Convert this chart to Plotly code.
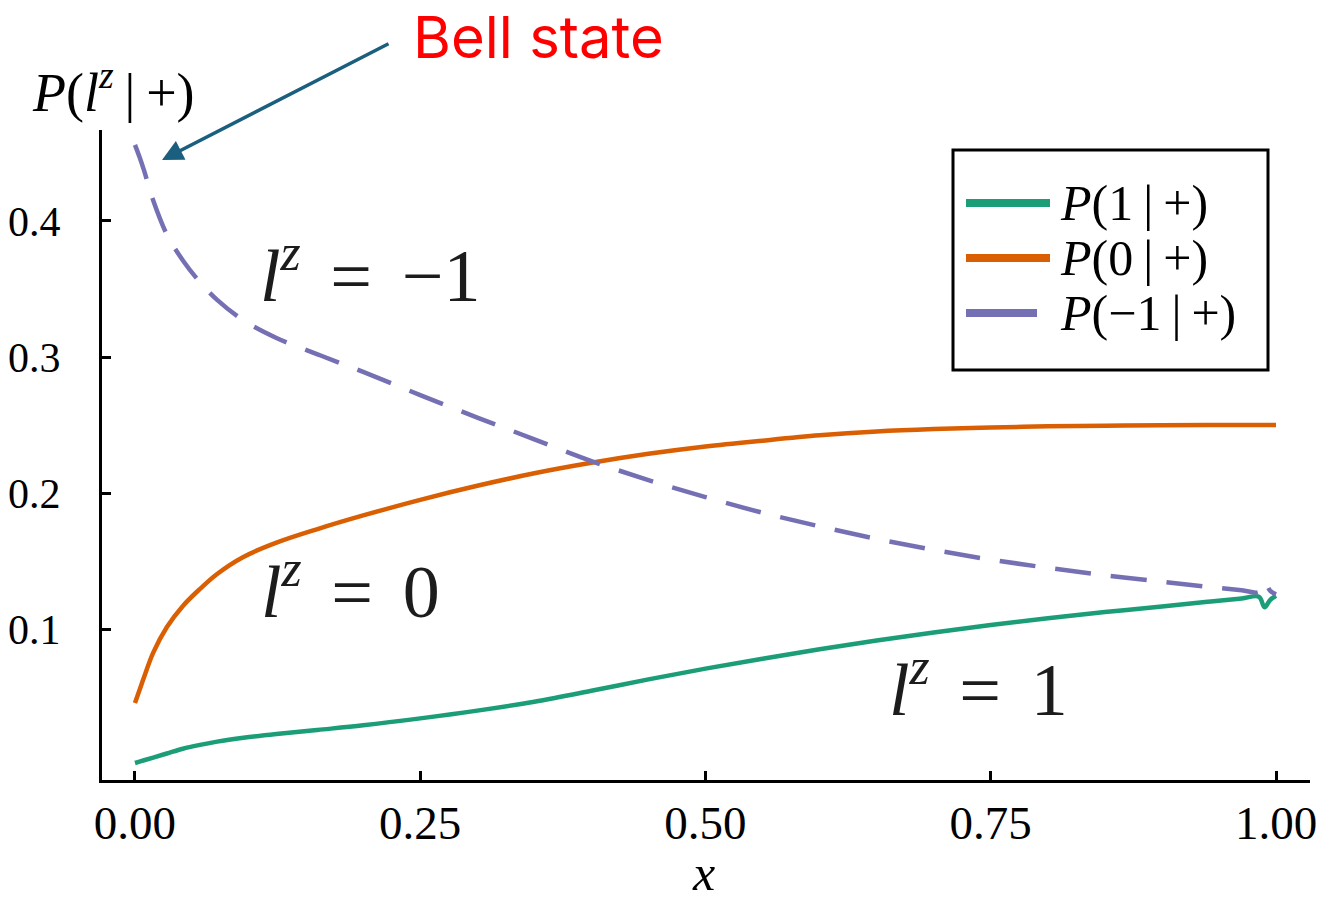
import plotly.graph_objects as go

# Sampled curves P(l^z | +) versus x
x_vals = [0.0, 0.004, 0.008, 0.016, 0.028, 0.042, 0.057, 0.072, 0.095, 0.124, 0.16, 0.2,
          0.25, 0.3, 0.35, 0.4, 0.45, 0.5, 0.55, 0.6, 0.65, 0.7, 0.75, 0.8,
          0.85, 0.9, 0.94, 0.97, 0.985, 0.99, 0.995, 1.0]

p_plus_one = [0.0015, 0.0025, 0.0035, 0.0055, 0.0085, 0.012, 0.0148, 0.0172, 0.0200, 0.0228, 0.0258, 0.0292,
              0.0343, 0.0400, 0.0466, 0.0546, 0.0630, 0.0709, 0.0782, 0.0851, 0.0915, 0.0975, 0.1030, 0.1080,
              0.1125, 0.1165, 0.1200, 0.1225, 0.1238, 0.116, 0.1215, 0.1245]

p_zero = [0.0456, 0.0552, 0.0647, 0.0826, 0.1015, 0.117, 0.1295, 0.1405, 0.153, 0.1635, 0.1735, 0.1835,
          0.1950, 0.2053, 0.2145, 0.2222, 0.2288, 0.2342, 0.2385, 0.2424, 0.2452, 0.247, 0.2482, 0.249,
          0.2495, 0.2498, 0.25, 0.25, 0.25, 0.25, 0.25, 0.25]

p_minus_one = [0.456, 0.447, 0.437, 0.415, 0.390, 0.371, 0.355, 0.342, 0.327, 0.314, 0.302, 0.289,
               0.272, 0.2555, 0.2395, 0.2235, 0.2095, 0.197, 0.1855, 0.1755, 0.1662, 0.1582, 0.151, 0.145,
               0.1395, 0.1348, 0.131, 0.1285, 0.1272, 0.1345, 0.128, 0.1255]

x_ticks = [0.0, 0.25, 0.5, 0.75, 1.0]
x_tick_text = ["0.00", "0.25", "0.50", "0.75", "1.00"]
y_ticks = [0.1, 0.2, 0.3, 0.4]
y_tick_text = ["0.1", "0.2", "0.3", "0.4"]

series_names = ["<i>P</i>(1|+)", "<i>P</i>(0|+)", "<i>P</i>(−1|+)"]
series_colors = ["#1b9e77", "#d95f02", "#7570b3"]

W, H = 1319, 901
L, R, T, B = 102, 9, 130, 121
PW, PH = W - L - R, H - T - B

SERIF = "Liberation Serif, Times New Roman, serif"


def px_to_paper(px, py):
    return (px - L) / PW, (H - B - py) / PH


fig = go.Figure()

for ys, name, color, dash in [(p_plus_one, series_names[0], series_colors[0], "solid"),
                              (p_zero, series_names[1], series_colors[1], "solid"),
                              (p_minus_one, series_names[2], series_colors[2], "36px,20px")]:
    fig.add_trace(go.Scatter(x=x_vals, y=ys, mode="lines", name=name,
                             line=dict(color=color, width=4.5, shape="spline", smoothing=1.0, dash=dash),
                             showlegend=False))

shapes = []
annotations = []

# Legend box with line samples
bx0, by0 = px_to_paper(953, 370)
bx1, by1 = px_to_paper(1268, 150)
shapes.append(dict(type="rect", xref="paper", yref="paper", x0=bx0, y0=by0, x1=bx1, y1=by1,
                   line=dict(color="black", width=3), fillcolor="white", layer="above"))
legend_rows = [(203, 1050), (258, 1050), (313, 1037)]
for (row_y, x_end), name, color in zip(legend_rows, series_names, series_colors):
    lx0, ly = px_to_paper(966, row_y)
    lx1, _ = px_to_paper(x_end, row_y)
    shapes.append(dict(type="line", xref="paper", yref="paper", x0=lx0, x1=lx1, y0=ly, y1=ly,
                       line=dict(color=color, width=8), layer="above"))
    tx, ty = px_to_paper(1058, row_y)
    annotations.append(dict(xref="paper", yref="paper", x=tx, y=ty,
                            text=name.replace("|", "&#8201;|&#8201;"), showarrow=False,
                            xanchor="left", yanchor="middle",
                            font=dict(family=SERIF, size=50, color="black")))

# Axis titles
ax_x, ax_y = px_to_paper(703, 873)
annotations.append(dict(xref="paper", yref="paper", x=ax_x, y=ax_y, text="<i>x</i>", showarrow=False,
                        xanchor="center", yanchor="middle",
                        font=dict(family=SERIF, size=50, color="black")))
yt_x, yt_y = px_to_paper(30, 88)
annotations.append(dict(xref="paper", yref="paper", x=yt_x, y=yt_y,
                        text="<i>P</i>(<i>l</i><sup><i>z</i></sup>&#8201;|&#8201;+)", showarrow=False,
                        xanchor="left", yanchor="middle",
                        font=dict(family=SERIF, size=54, color="black")))

# Curve labels
for (cx, cy), label in [((370, 270), "<i>l</i><sup><i>z</i></sup>&#8201;&#8201;=&#8201;&#8201;−1"),
                        ((350, 586), "<i>l</i><sup><i>z</i></sup>&#8201;&#8201;=&#8201;&#8201;0"),
                        ((978, 684), "<i>l</i><sup><i>z</i></sup>&#8201;&#8201;=&#8201;&#8201;1")]:
    lx, ly = px_to_paper(cx, cy)
    annotations.append(dict(xref="paper", yref="paper", x=lx, y=ly, text=label, showarrow=False,
                            xanchor="center", yanchor="middle",
                            font=dict(family=SERIF, size=74, color="#1c1c1c")))

# Bell state callout
bl_x, bl_y = px_to_paper(538, 37)
annotations.append(dict(xref="paper", yref="paper", x=bl_x, y=bl_y, text="Bell state", showarrow=False,
                        xanchor="center", yanchor="middle",
                        font=dict(family="Inter, Open Sans, sans-serif", size=58, color="#ff0000")))
hx, hy = px_to_paper(162, 160)
annotations.append(dict(xref="paper", yref="paper", x=hx, y=hy, text="", showarrow=True,
                        ax=390 - 162, ay=43 - 160, arrowhead=2, arrowsize=1.2, arrowwidth=3.5,
                        arrowcolor="#1b5f7e"))

fig.update_layout(
    width=W, height=H,
    margin=dict(l=L, r=R, t=T, b=B, autoexpand=False),
    paper_bgcolor="white", plot_bgcolor="white",
    shapes=shapes, annotations=annotations,
    showlegend=False,
)

fig.update_xaxes(range=[-0.0289, 1.0298], tickvals=x_ticks, ticktext=x_tick_text,
                 showgrid=False, zeroline=False, showline=True, linecolor="black", linewidth=3,
                 ticks="inside", ticklen=9, tickwidth=2.5, tickcolor="black",
                 tickfont=dict(family=SERIF, size=47, color="black"), ticklabelstandoff=0,
                 ticklabeloverflow="allow", automargin=False)
fig.update_yaxes(range=[-0.0110, 0.4669], tickvals=y_ticks, ticktext=y_tick_text,
                 showgrid=False, zeroline=False, showline=True, linecolor="black", linewidth=3,
                 ticks="inside", ticklen=9, tickwidth=2.5, tickcolor="black",
                 tickfont=dict(family=SERIF, size=42, color="black"), ticklabelstandoff=30,
                 automargin=False)

fig.write_html("out.html")
